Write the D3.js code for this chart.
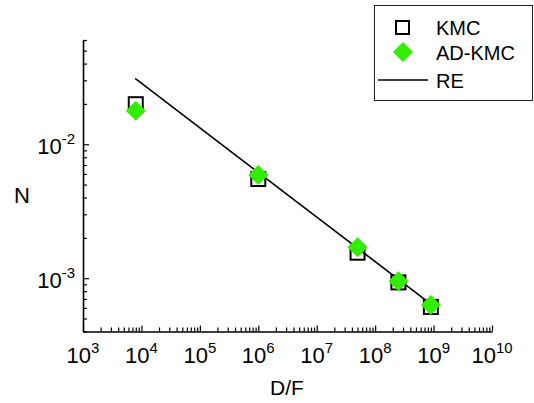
<!DOCTYPE html>
<html>
<head>
<meta charset="utf-8">
<script src="https://cdn.jsdelivr.net/npm/d3@7"></script>
<style>
  body { margin: 0; background: #fff; }
  text { font-family: "Liberation Sans", Arial, sans-serif; fill: #000; }
</style>
</head>
<body>
<script>
// data
var dfValues = [8e3, 1e6, 5e7, 2.5e8, 9e8];
var kmcValues = [0.0199, 0.0055, 0.00155, 0.00093, 0.00061];
var adkmcValues = [0.0178, 0.0059, 0.0017, 0.00095, 0.00063];
var reX = [7.8e3, 9e8];
var reY = [0.031, 0.00064];
var xTickExp = [3, 4, 5, 6, 7, 8, 9, 10];
var yTickExp = [-3, -2];

var width = 534, height = 403;

var x = d3.scaleLog().domain([1e3, 1e10]).range([83, 492]);
var y = d3.scaleLog().domain([4e-4, 0.06]).range([331.5, 40]);

var svg = d3.select("body").append("svg")
    .attr("width", width)
    .attr("height", height);

// minor ticks for log axes
function logTicks(lo, hi) {
  var t = [];
  for (var e = Math.floor(Math.log10(lo)); e <= Math.ceil(Math.log10(hi)); e++) {
    for (var m = 1; m < 10; m++) {
      var v = m * Math.pow(10, e);
      if (v >= lo * 0.999 && v <= hi * 1.001) t.push(v);
    }
  }
  return t;
}
function isMajor(v) {
  var l = Math.log10(v);
  return Math.abs(l - Math.round(l)) < 1e-6;
}

var xAxis = svg.append("g")
    .attr("transform", "translate(0," + y.range()[0] + ")")
    .call(d3.axisBottom(x).tickValues(logTicks(1e3, 1e10)).tickFormat("").tickSizeOuter(0));
xAxis.selectAll(".tick line")
    .attr("y2", function(d) { return isMajor(d) ? -6 : -4; })
    .attr("stroke-width", 1.2);
xAxis.select(".domain").attr("stroke-width", 1.6);

var yAxis = svg.append("g")
    .attr("transform", "translate(" + x.range()[0] + ",0)")
    .call(d3.axisLeft(y).tickValues(logTicks(4e-4, 0.06)).tickFormat("").tickSizeOuter(0));
yAxis.selectAll(".tick line")
    .attr("x2", function(d) { return isMajor(d) ? 6 : 4; })
    .attr("stroke-width", 1.2);
yAxis.select(".domain").attr("stroke-width", 1.6);

// tick labels with superscripts
var xl = svg.append("g").selectAll("text")
    .data(xTickExp)
  .enter().append("text")
    .attr("x", function(d) { return x(Math.pow(10, d)); })
    .attr("y", 363)
    .attr("text-anchor", "middle")
    .style("font-size", "22px");
xl.append("tspan").text("10");
xl.append("tspan").attr("dy", -10).style("font-size", "15px").text(function(d) { return d; });

var yl = svg.append("g").selectAll("text")
    .data(yTickExp)
  .enter().append("text")
    .attr("x", 75)
    .attr("y", function(d) { return y(Math.pow(10, d)) + 10; })
    .attr("text-anchor", "end")
    .style("font-size", "22px");
yl.append("tspan").text("10");
yl.append("tspan").attr("dy", -10).style("font-size", "15px").text(function(d) { return d; });

// axis titles
svg.append("text")
    .attr("x", 287)
    .attr("y", 395)
    .attr("text-anchor", "middle")
    .style("font-size", "21px")
    .text("D/F");

svg.append("text")
    .attr("x", 22)
    .attr("y", 203)
    .attr("text-anchor", "middle")
    .style("font-size", "22px")
    .text("N");

// RE line
var line = d3.line()
    .x(function(d) { return x(d[0]); })
    .y(function(d) { return y(d[1]); });

svg.append("path")
    .datum(d3.zip(reX, reY))
    .attr("d", line)
    .attr("fill", "none")
    .attr("stroke", "#000")
    .attr("stroke-width", 1.6);

// KMC squares
var sq = 14;
svg.append("g").selectAll("rect")
    .data(d3.zip(dfValues, kmcValues))
  .enter().append("rect")
    .attr("x", function(d) { return x(d[0]) - sq / 2; })
    .attr("y", function(d) { return y(d[1]) - sq / 2; })
    .attr("width", sq)
    .attr("height", sq)
    .attr("fill", "none")
    .attr("stroke", "#000")
    .attr("stroke-width", 2);

// AD-KMC diamonds
var diamond = "M0,-10L10,0L0,10L-10,0Z";
var green = "#33ee00";
svg.append("g").selectAll("path")
    .data(d3.zip(dfValues, adkmcValues))
  .enter().append("path")
    .attr("transform", function(d) { return "translate(" + x(d[0]) + "," + y(d[1]) + ")"; })
    .attr("d", diamond)
    .attr("fill", green);

// legend
var leg = svg.append("g");
leg.append("rect")
    .attr("x", 374.5).attr("y", 5.5)
    .attr("width", 158).attr("height", 95)
    .attr("fill", "#fff")
    .attr("stroke", "#222")
    .attr("stroke-width", 1);
leg.append("rect")
    .attr("x", 396).attr("y", 21)
    .attr("width", 13).attr("height", 13)
    .attr("fill", "none").attr("stroke", "#000").attr("stroke-width", 2);
leg.append("path")
    .attr("transform", "translate(403,52)")
    .attr("d", diamond)
    .attr("fill", green);
leg.append("line")
    .attr("x1", 378).attr("x2", 428)
    .attr("y1", 80).attr("y2", 80)
    .attr("stroke", "#000").attr("stroke-width", 1.6);
leg.selectAll("text.lab")
    .data(["KMC", "AD-KMC", "RE"])
  .enter().append("text")
    .attr("class", "lab")
    .attr("x", 436)
    .attr("y", function(d, i) { return [35, 60, 88][i]; })
    .style("font-size", "20px")
    .text(function(d) { return d; });
</script>
</body>
</html>
